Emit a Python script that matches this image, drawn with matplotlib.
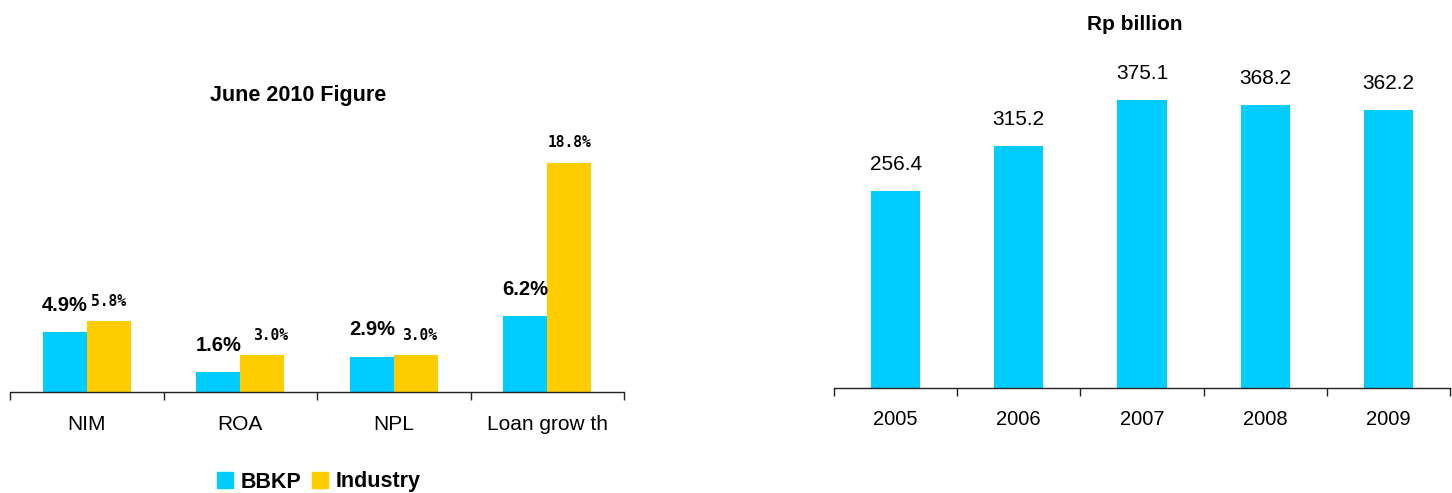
import matplotlib
matplotlib.use("Agg")
import matplotlib.pyplot as plt
import numpy as np
from matplotlib.patches import Patch

plt.rcParams['font.family'] = ['Liberation Sans', 'DejaVu Sans']

# ---- data ----
ratio_categories = ["NIM", "ROA", "NPL", "Loan grow th"]
bbkp_values = [4.9, 1.6, 2.9, 6.2]
industry_values = [5.8, 3.0, 3.0, 18.8]
years = ["2005", "2006", "2007", "2008", "2009"]
rp_values = [256.4, 315.2, 375.1, 368.2, 362.2]

CYAN = "#00CCFF"
YELLOW = "#FFCC00"

W, H = 1452, 493
fig = plt.figure(figsize=(W / 100, H / 100), dpi=100)

def ax_rect(x0, x1, ybot, ytop):
    return [x0 / W, 1 - ybot / H, (x1 - x0) / W, (ybot - ytop) / H]

def style_axis(ax, n, fs, pad):
    for s in ["top", "right", "left"]:
        ax.spines[s].set_visible(False)
    ax.spines["bottom"].set_color("#222222")
    ax.spines["bottom"].set_linewidth(1.0)
    ax.set_yticks([])
    ax.set_xlim(-0.5, n - 0.5)
    ax.set_xticks(np.arange(n))
    ax.tick_params(axis="x", which="major", length=0, pad=pad, labelsize=fs)
    ax.set_xticks(np.arange(n + 1) - 0.5, minor=True)
    ax.tick_params(axis="x", which="minor", length=6, width=1, color="#222222")

# ---- left chart ----
ax1 = fig.add_axes(ax_rect(10, 624, 392, 130))
x = np.arange(len(ratio_categories))
bw = 0.2866
ax1.bar(x - bw / 2, bbkp_values, bw, color=CYAN, label="BBKP")
ax1.bar(x + bw / 2, industry_values, bw, color=YELLOW, label="Industry")
ax1.set_ylim(0, 262 / 12.2)
style_axis(ax1, len(ratio_categories), 15, 16.5)
ax1.set_xticklabels(ratio_categories)

for xi, v in zip(x, bbkp_values):
    ax1.annotate(f"{v:.1f}%", (xi - bw / 2, v), xytext=(0, 19.5), textcoords="offset points",
                 ha="center", va="center", fontsize=14.5, fontweight="bold")
ind_dx = [0, 5.8, 3, 0]
for xi, v, dx in zip(x, industry_values, ind_dx):
    ax1.annotate(f"{v:.1f}%", (xi + bw / 2, v), xytext=(dx, 14.5), textcoords="offset points",
                 ha="center", va="center", fontsize=10.5, fontweight="bold",
                 family=["DejaVu Sans Mono"])

fig.text(298 / W, 1 - 96 / H, "June 2010 Figure", ha="center", va="center",
         fontsize=15.5, fontweight="bold")

handles = [Patch(color=CYAN, label="BBKP"), Patch(color=YELLOW, label="Industry")]
fig.legend(handles=handles, loc="center", bbox_to_anchor=(319 / W, 1 - 482 / H),
           ncol=2, frameon=False, handlelength=0.75, handleheight=0.75,
           handletextpad=0.35, columnspacing=0.5, prop={"size": 15.5, "weight": "bold"})

# ---- right chart ----
ax2 = fig.add_axes(ax_rect(834, 1450, 388, 60))
xr = np.arange(len(years))
ax2.bar(xr, rp_values, 0.4, color=CYAN)
ax2.set_ylim(0, 328 / 0.768)
style_axis(ax2, len(years), 14.5, 15.5)
ax2.set_xticklabels(years)
for xi, v in zip(xr, rp_values):
    ax2.annotate(f"{v:.1f}", (xi, v), xytext=(0, 19), textcoords="offset points",
                 ha="center", va="center", fontsize=15)

fig.text(1135 / W, 1 - 25 / H, "Rp billion", ha="center", va="center",
         fontsize=15, fontweight="bold")

fig.savefig("out.png", dpi=100)
